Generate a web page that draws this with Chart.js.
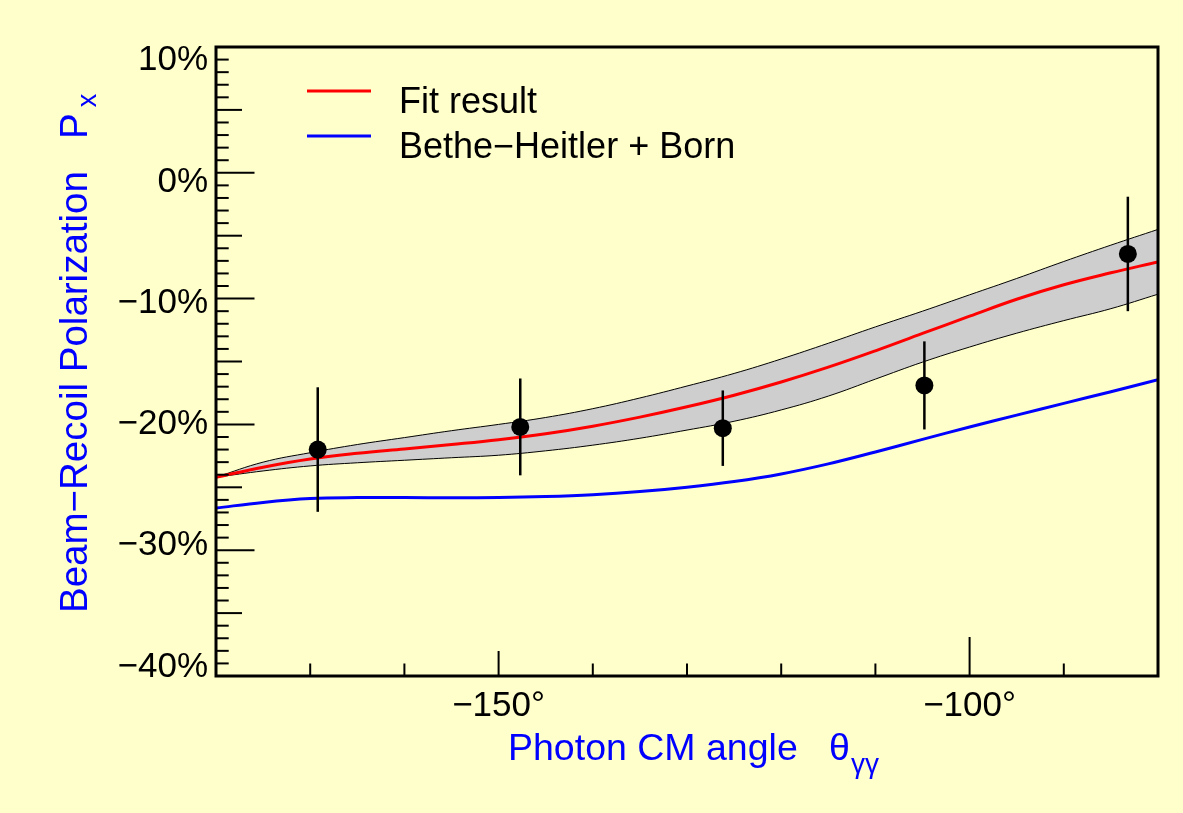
<!DOCTYPE html>
<html>
<head>
<meta charset="utf-8">
<script src="https://cdn.jsdelivr.net/npm/chart.js@4.4.0/dist/chart.umd.min.js"></script>
<style>
  html, body { margin: 0; padding: 0; background: #ffffcc; }
  #wrap { width: 1183px; height: 813px; }
</style>
</head>
<body>
<div id="wrap"><canvas id="chart" width="1183" height="813"></canvas></div>
<script>
// measured points: photon CM angle (deg) and polarization (%)
const angles = [-169.2, -147.7, -126.2, -104.8, -83.2];
const polarization = [-22.0, -20.2, -20.3, -16.9, -6.45];
const polErr = [4.95, 3.85, 3.0, 3.5, 4.55];

// curves sampled every 5 deg
const curveAngles = [-180, -175, -170, -165, -160, -155, -150, -145, -140, -135, -130,
  -125, -120, -115, -110, -105, -100, -95, -90, -85, -80];
const fitCurve = [-24.2, -23.4, -22.75, -22.3, -21.95, -21.6, -21.22, -20.74, -20.14, -19.42, -18.6,
  -17.68, -16.63, -15.45, -14.15, -12.77, -11.4, -10.05, -8.9, -7.95, -7.08];
const fitUpper = [-24.2, -23.0, -22.25, -21.6, -21.05, -20.5, -20.0, -19.45, -18.75, -17.9, -16.95,
  -15.95, -14.8, -13.55, -12.25, -11.0, -9.7, -8.4, -7.05, -5.75, -4.5];
const fitLower = [-24.2, -23.7, -23.3, -23.05, -22.85, -22.65, -22.45, -22.1, -21.65, -21.1, -20.45,
  -19.75, -18.85, -17.75, -16.4, -15.05, -13.85, -12.75, -11.75, -10.8, -9.65];
const bhbCurve = [-26.65, -26.2, -25.9, -25.82, -25.82, -25.84, -25.82, -25.74, -25.59, -25.34, -24.99,
  -24.54, -23.94, -23.14, -22.19, -21.19, -20.21, -19.26, -18.33, -17.4, -16.45];

const xTickValues = [-150, -100];
const yTickValues = [-40, -30, -20, -10, 0, 10];

const fitLabel = "Fit result";
const bhbLabel = "Bethe\u2212Heitler + Born";
const xTitle = "Photon CM angle   \u03b8";
const xTitleSub = "\u03b3\u03b3";
const yTitle = "Beam\u2212Recoil Polarization   P";
const yTitleSub = "x";

const FONT = '"Liberation Sans", Arial, sans-serif';

function pts(xs, ys) {
  return xs.map((x, i) => ({ x: x, y: ys[i] }));
}

function minus(v) {
  return v < 0 ? "\u2212" + Math.abs(v) : String(v);
}

// error bars, drawn just before the markers
const errorBars = {
  id: "errorBars",
  beforeDatasetDraw(chart, args) {
    if (args.index !== 0) return;
    const ctx = chart.ctx;
    const xs = chart.scales.x;
    const ys = chart.scales.y;
    ctx.save();
    ctx.strokeStyle = "#000";
    ctx.lineWidth = 2.5;
    angles.forEach((a, i) => {
      const px = xs.getPixelForValue(a);
      ctx.beginPath();
      ctx.moveTo(px, ys.getPixelForValue(polarization[i] + polErr[i]));
      ctx.lineTo(px, ys.getPixelForValue(polarization[i] - polErr[i]));
      ctx.stroke();
    });
    ctx.restore();
  }
};

// ROOT-like frame, inside ticks, legend and axis titles
const frame = {
  id: "frame",
  afterDatasetsDraw(chart) {
    const ctx = chart.ctx;
    const a = chart.chartArea;
    const xs = chart.scales.x;
    const ys = chart.scales.y;
    ctx.save();
    ctx.strokeStyle = "#000";
    ctx.lineWidth = 2;
    for (let v = -40; v <= 10; v++) {
      const len = v % 10 === 0 ? 38.5 : (v % 5 === 0 ? 26 : 12.7);
      const py = ys.getPixelForValue(v);
      ctx.beginPath();
      ctx.moveTo(a.left, py);
      ctx.lineTo(a.left + len, py);
      ctx.stroke();
    }
    for (let v = -180; v <= -80; v += 10) {
      const len = v % 100 === 0 ? 39 : (v % 50 === 0 ? 25 : 12.5);
      const px = xs.getPixelForValue(v);
      ctx.beginPath();
      ctx.moveTo(px, a.bottom);
      ctx.lineTo(px, a.bottom - len);
      ctx.stroke();
    }
    ctx.lineWidth = 3;
    ctx.strokeRect(a.left, a.top, a.right - a.left, a.bottom - a.top);

    // legend
    ctx.font = "36px " + FONT;
    ctx.textBaseline = "alphabetic";
    ctx.textAlign = "left";
    chart.data.datasets.filter(ds => ds.inLegend).forEach((ds, i) => {
      const ly = 91 + i * 45;
      ctx.strokeStyle = ds.borderColor;
      ctx.lineWidth = 3;
      ctx.beginPath();
      ctx.moveTo(307, ly);
      ctx.lineTo(371, ly);
      ctx.stroke();
      ctx.fillStyle = "#000";
      ctx.fillText(ds.label, 399, ly + 21.5);
    });

    // axis titles
    ctx.fillStyle = "#0000ff";
    ctx.font = "37.5px " + FONT;
    ctx.fillText(xTitle, 508, 760);
    const w = ctx.measureText(xTitle).width;
    ctx.font = "28px " + FONT;
    ctx.fillText(xTitleSub, 508 + w + 1, 773);

    ctx.translate(87, 613);
    ctx.rotate(-Math.PI / 2);
    ctx.font = "38.5px " + FONT;
    ctx.fillText(yTitle, 0, 0);
    const wy = ctx.measureText(yTitle).width;
    ctx.font = "27px " + FONT;
    ctx.fillText(yTitleSub, wy + 6, 9);
    ctx.restore();
  }
};

const ctx = document.getElementById("chart").getContext("2d");

const curveStyle = { pointRadius: 0, tension: 0.4, fill: false };

new Chart(ctx, {
  type: "line",
  data: {
    datasets: [
      {
        label: "Data",
        data: pts(angles, polarization),
        showLine: false,
        pointRadius: 9,
        pointHoverRadius: 9,
        pointBackgroundColor: "#000",
        pointBorderWidth: 0
      },
      Object.assign({
        label: fitLabel,
        inLegend: true,
        data: pts(curveAngles, fitCurve),
        borderColor: "#ff0000",
        borderWidth: 3
      }, curveStyle),
      Object.assign({
        label: bhbLabel,
        inLegend: true,
        data: pts(curveAngles, bhbCurve),
        borderColor: "#0000ff",
        borderWidth: 3
      }, curveStyle),
      Object.assign({
        label: "Fit lower",
        data: pts(curveAngles, fitLower),
        borderColor: "#000",
        borderWidth: 1
      }, curveStyle),
      Object.assign({}, curveStyle, {
        label: "Fit upper",
        data: pts(curveAngles, fitUpper),
        borderColor: "#000",
        borderWidth: 1,
        backgroundColor: "rgb(206,206,206)",
        fill: "-1"
      })
    ]
  },
  options: {
    responsive: false,
    animation: false,
    layout: { padding: { top: 47, right: 25, left: 0, bottom: 0 } },
    plugins: {
      legend: { display: false },
      tooltip: { enabled: false }
    },
    scales: {
      x: {
        type: "linear",
        position: "bottom",
        min: -180,
        max: -80,
        grid: { display: false, drawTicks: false },
        border: { display: false },
        afterBuildTicks: s => { s.ticks = xTickValues.map(v => ({ value: v })); },
        afterFit: s => { s.height = 137; },
        ticks: {
          padding: 9,
          color: "#000",
          font: { family: FONT, size: 35 },
          callback: v => minus(v) + "\u00b0"
        }
      },
      y: {
        type: "linear",
        display: false,
        min: -40,
        max: 10
      },
      // label axis: ROOT packs the labels slightly tighter than the ticks
      yLab: {
        type: "linear",
        position: "left",
        min: -40.73,
        max: 11.12,
        grid: { display: false, drawTicks: false },
        border: { display: false },
        afterBuildTicks: s => { s.ticks = yTickValues.map(v => ({ value: v })); },
        afterFit: s => { s.width = 216; },
        ticks: {
          padding: 8,
          color: "#000",
          font: { family: FONT, size: 35 },
          callback: v => minus(v) + "%"
        }
      }
    }
  },
  plugins: [errorBars, frame]
});
</script>
</body>
</html>
